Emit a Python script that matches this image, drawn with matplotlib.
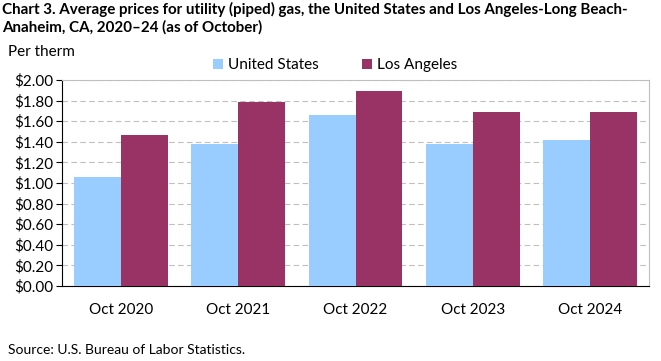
import matplotlib.pyplot as plt
import numpy as np

plt.rcParams['font.family'] = ['Lato', 'DejaVu Sans']

periods = ['Oct 2020', 'Oct 2021', 'Oct 2022', 'Oct 2023', 'Oct 2024']
us_prices = [1.06, 1.38, 1.66, 1.38, 1.42]
la_prices = [1.47, 1.79, 1.89, 1.69, 1.69]
y_ticks = [0.0, 0.2, 0.4, 0.6, 0.8, 1.0, 1.2, 1.4, 1.6, 1.8, 2.0]

fig = plt.figure(figsize=(6.61, 3.61), dpi=100)
ax = fig.add_axes([62 / 661, 75 / 361, 587 / 661, 206 / 361])

x = np.arange(len(periods))
w = 0.4
ax.bar(x - w / 2, us_prices, w, color='#99CCFF', label='United States', zorder=3)
ax.bar(x + w / 2, la_prices, w, color='#993366', label='Los Angeles', zorder=3)

ax.set_xlim(-0.5, len(periods) - 0.5)
ax.set_ylim(0, 2.0)
ax.set_yticks(y_ticks)
ax.set_yticklabels([f'${v:.2f}' for v in y_ticks], fontsize=11)
ax.set_xticks(x)
ax.set_xticklabels(periods, fontsize=11)
ax.tick_params(axis='x', length=0, pad=12)
ax.tick_params(axis='y', length=4, direction='out', pad=2)

ax.grid(axis='y', linestyle=(0, (5, 3)), color='#BFBFBF', linewidth=0.8, zorder=0)
for s in ['top', 'right']:
    ax.spines[s].set_color('#BFBFBF')
ax.spines['left'].set_color('black')
ax.spines['bottom'].set_color('black')

ax.legend(loc='lower center', bbox_to_anchor=(0.465, 1.0), ncol=2, frameon=False,
          fontsize=11, handlelength=0.7, handleheight=0.7, handletextpad=0.3,
          columnspacing=2.8, borderaxespad=0.1)

fig.text(0.003, 0.995, 'Chart 3. Average prices for utility (piped) gas, the United States and Los Angeles-Long Beach-\nAnaheim, CA, 2020\u201324 (as of October)',
         fontsize=10.9, fontweight='bold', va='top', ha='left', linespacing=1.25)
fig.text(0.012, 0.855, 'Per therm', fontsize=11, va='center', ha='left')
fig.text(0.012, 0.03, 'Source: U.S. Bureau of Labor Statistics.', fontsize=10, va='center', ha='left')

fig.savefig('out.png', dpi=100)
